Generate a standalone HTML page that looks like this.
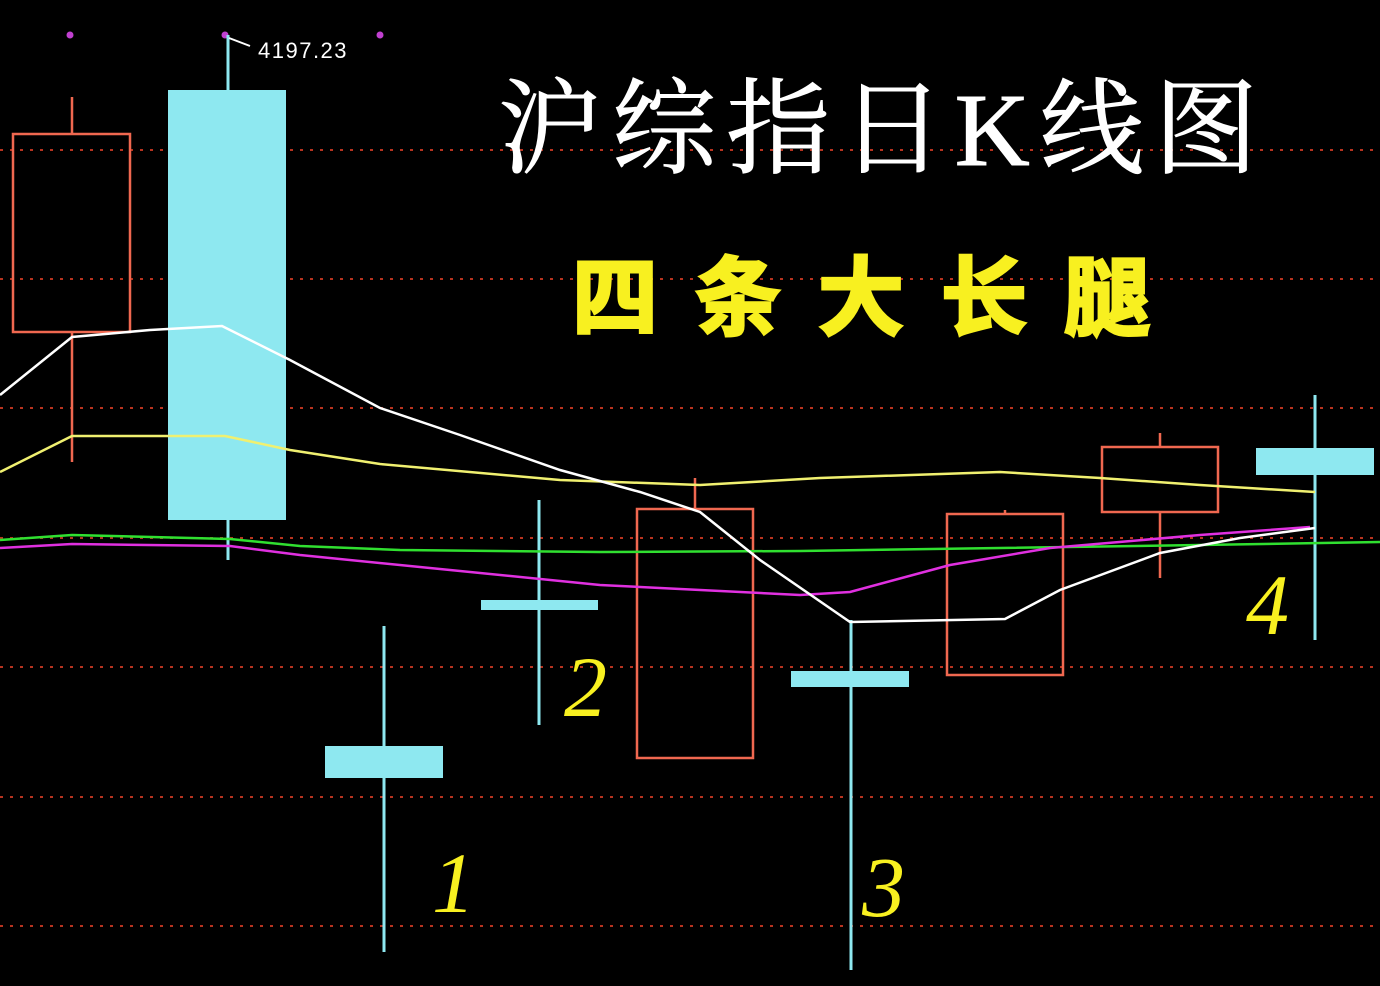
<!DOCTYPE html>
<html><head><meta charset="utf-8"><style>
html,body{margin:0;padding:0;background:#000;}
svg{display:block}
</style></head><body>
<svg width="1380" height="986" viewBox="0 0 1380 986" xmlns="http://www.w3.org/2000/svg">
<rect width="1380" height="986" fill="#000"/>
<g stroke="#b8331f" stroke-width="2" stroke-dasharray="3,7">
<line x1="0" y1="150" x2="1380" y2="150"/>
<line x1="0" y1="279" x2="1380" y2="279"/>
<line x1="0" y1="408" x2="1380" y2="408"/>
<line x1="0" y1="538" x2="1380" y2="538"/>
<line x1="0" y1="667" x2="1380" y2="667"/>
<line x1="0" y1="797" x2="1380" y2="797"/>
<line x1="0" y1="926" x2="1380" y2="926"/>
</g>
<g fill="#c040d0"><circle cx="70" cy="35" r="3.5"/><circle cx="225" cy="35" r="3.5"/><circle cx="380" cy="35" r="3.5"/></g>
<g stroke="#f06850" stroke-width="2.5" fill="none">
<line x1="72" y1="97" x2="72" y2="134"/><line x1="72" y1="332" x2="72" y2="462"/>
<rect x="13" y="134" width="117" height="198"/>
<line x1="695" y1="478" x2="695" y2="509"/>
<rect x="637" y="509" width="116" height="249"/>
<line x1="1005" y1="510" x2="1005" y2="514"/>
<rect x="947" y="514" width="116" height="161"/>
<line x1="1160" y1="433" x2="1160" y2="447"/><line x1="1160" y1="512" x2="1160" y2="578"/>
<rect x="1102" y="447" width="116" height="65"/>
</g>
<g stroke="#8ee8f0" stroke-width="3" fill="#8ee8f0">
<line x1="228" y1="35" x2="228" y2="560"/>
<rect x="168" y="90" width="118" height="430" stroke="none"/>
<line x1="384" y1="626" x2="384" y2="952"/>
<rect x="325" y="746" width="118" height="32" stroke="none"/>
<line x1="539" y1="500" x2="539" y2="725"/>
<rect x="481" y="600" width="117" height="10" stroke="none"/>
<line x1="851" y1="620" x2="851" y2="970"/>
<rect x="791" y="671" width="118" height="16" stroke="none"/>
<line x1="1315" y1="395" x2="1315" y2="640"/>
<rect x="1256" y="448" width="118" height="27" stroke="none"/>
</g>
<g fill="none" stroke-width="2.5">
<polyline stroke="#30e030" points="0,540 72,535 230,539 300,546 400,550 600,552 800,551 1000,548 1200,545 1380,542"/>
<polyline stroke="#e030e0" points="0,548 72,544 230,546 300,555 450,570 600,585 800,595 850,592 950,565 1050,548 1200,535 1310,527"/>
<polyline stroke="#f0f070" points="0,472 72,436 225,436 290,450 380,464 560,480 700,485 820,478 1000,472 1100,478 1200,485 1315,492"/>
<polyline stroke="#ffffff" points="0,395 72,337 150,330 222,326 290,360 380,408 460,435 560,470 640,492 700,512 760,560 850,622 1005,619 1060,590 1160,553 1240,538 1315,528"/>
</g>
<path d="M229,38 L250,46" stroke="#fff" stroke-width="2" fill="none"/>
<text x="258" y="58" fill="#fff" font-family="Liberation Sans, sans-serif" font-size="22" letter-spacing="1.5">4197.23</text>
<text x="498" y="165" fill="#fff" stroke="#fff" stroke-width="1" font-family="Liberation Serif, 'Noto Serif CJK SC', serif" font-size="104" textLength="760">沪综指日K线图</text>
<text x="572" y="328" fill="#f8f020" stroke="#f8f020" stroke-width="3" font-family="Liberation Sans, 'Noto Sans CJK SC', sans-serif" font-size="86" font-weight="bold" textLength="578">四条大长腿</text>
<g fill="#f8f020" font-family="Liberation Serif, serif" font-style="italic" font-size="86">
<text x="432" y="912">1</text>
<text x="564" y="716">2</text>
<text x="862" y="916">3</text>
<text x="1246" y="634">4</text>
</g>
</svg>
</body></html>
